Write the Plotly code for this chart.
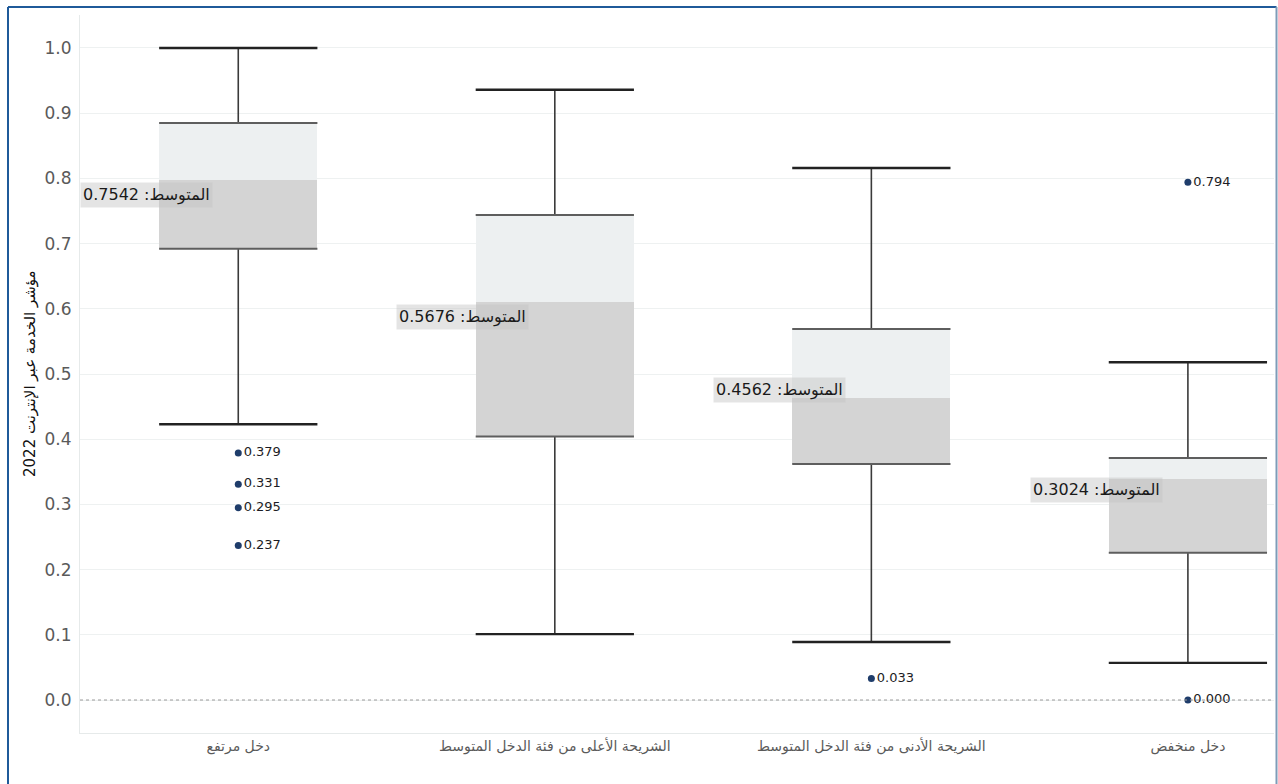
import plotly.graph_objects as go

# ---------------- data ----------------
categories = ["دخل مرتفع",
              "الشريحة الأعلى من فئة الدخل المتوسط",
              "الشريحة الأدنى من فئة الدخل المتوسط",
              "دخل منخفض"]
whisker_high = [1.000, 0.936, 0.816, 0.518]
q3 = [0.885, 0.744, 0.569, 0.371]
median = [0.798, 0.610, 0.463, 0.339]
q1 = [0.692, 0.404, 0.362, 0.226]
whisker_low = [0.423, 0.101, 0.089, 0.057]
means = [0.7542, 0.5676, 0.4562, 0.3024]
outlier_cat = [0, 0, 0, 0, 2, 3, 3]
outlier_val = [0.379, 0.331, 0.295, 0.237, 0.033, 0.794, 0.000]
y_title = "مؤشر الخدمة عبر الإنترنت 2022"
mean_label = "المتوسط"

# ---------------- layout constants ----------------
W, H = 1278, 784
ML, MR, MT, MB = 80, 4, 15, 51
PW, PH = W - ML - MR, H - MT - MB
HALF = 0.25
pos = list(range(len(categories)))

def px_to_paper_x(px):
    return (px - ML) / PW

def px_to_paper_y(py):
    return (H - MB - py) / PH

fig = go.Figure()

# lower half of box (Q1 -> median)
fig.add_trace(go.Bar(x=pos, y=[m - a for m, a in zip(median, q1)], base=q1,
                     width=2 * HALF, marker=dict(color="#d4d4d4", line=dict(width=0)),
                     hoverinfo="skip", showlegend=False))
# upper half of box (median -> Q3)
fig.add_trace(go.Bar(x=pos, y=[b - m for b, m in zip(q3, median)], base=median,
                     width=2 * HALF, marker=dict(color="#edf0f1", line=dict(width=0)),
                     hoverinfo="skip", showlegend=False))

# whisker stems
sx, sy = [], []
for i in pos:
    sx += [i, i, None, i, i, None]
    sy += [q3[i], whisker_high[i], None, q1[i], whisker_low[i], None]
fig.add_trace(go.Scatter(x=sx, y=sy, mode="lines", line=dict(color="#3a3a3a", width=1.6),
                         hoverinfo="skip", showlegend=False))

# Q1 / Q3 edges
ex, ey = [], []
for i in pos:
    for v in (q3[i], q1[i]):
        ex += [i - HALF, i + HALF, None]
        ey += [v, v, None]
fig.add_trace(go.Scatter(x=ex, y=ey, mode="lines", line=dict(color="#5e5e5e", width=2),
                         hoverinfo="skip", showlegend=False))

# whisker caps
cx, cy = [], []
for i in pos:
    for v in (whisker_high[i], whisker_low[i]):
        cx += [i - HALF, i + HALF, None]
        cy += [v, v, None]
fig.add_trace(go.Scatter(x=cx, y=cy, mode="lines", line=dict(color="#222222", width=2.4),
                         hoverinfo="skip", showlegend=False))

# outliers
fig.add_trace(go.Scatter(x=outlier_cat, y=outlier_val, mode="markers+text",
                         marker=dict(color="#1f3d6b", size=7),
                         text=[f"{v:.3f}" for v in outlier_val],
                         textposition="middle right",
                         textfont=dict(family="DejaVu Sans", size=13, color="#1c1c24"),
                         hoverinfo="skip", showlegend=False))

# mean labels
for i in pos:
    fig.add_annotation(x=i - 0.08, y=means[i], xref="x", yref="y",
                       xanchor="right", yanchor="bottom",
                       text=f"{mean_label}: {means[i]:.4f}", showarrow=False,
                       bgcolor="rgba(195,195,195,0.45)", borderpad=2,
                       font=dict(family="DejaVu Sans", size=16, color="#1a1a1a"))

# y axis title
fig.add_annotation(x=px_to_paper_x(30), y=0.5, xref="paper", yref="paper",
                   xanchor="center", yanchor="middle", textangle=-90,
                   text=y_title, showarrow=False,
                   font=dict(family="DejaVu Sans", size=15, color="#111111"))

# dotted zero line
fig.add_shape(type="line", xref="paper", yref="y", x0=0, x1=1, y0=0, y1=0,
              line=dict(color="#9a9a9a", width=1, dash="dot"), layer="above")

# outer frame (left, top, right)
fl, ft, fr, fb = px_to_paper_x(8), px_to_paper_y(7), px_to_paper_x(1276.5), px_to_paper_y(800)
fig.add_shape(type="line", xref="paper", yref="paper", x0=fl, x1=fl, y0=fb, y1=ft,
              line=dict(color="#1f5a99", width=2))
fig.add_shape(type="line", xref="paper", yref="paper", x0=fl, x1=fr, y0=ft, y1=ft,
              line=dict(color="#1f5a99", width=2))
fig.add_shape(type="line", xref="paper", yref="paper", x0=fr, x1=fr, y0=fb, y1=ft,
              line=dict(color="#7f9bb8", width=2))

fig.update_layout(
    width=W, height=H,
    margin=dict(l=ML, r=MR, t=MT, b=MB),
    paper_bgcolor="white", plot_bgcolor="white",
    barmode="overlay", bargap=0,
    showlegend=False,
    xaxis=dict(range=[-0.5, 3.272], tickmode="array", tickvals=pos, ticktext=categories,
               showgrid=False, zeroline=False, showline=True, linecolor="#e6eaea",
               tickfont=dict(family="DejaVu Sans", size=14, color="#5a5a5a"),
               ticks=""),
    yaxis=dict(range=[-0.0506, 1.0506], tickmode="array",
               tickvals=[k / 10 for k in range(11)],
               ticktext=[f"{k / 10:.1f}" for k in range(11)],
               showgrid=True, gridcolor="#eef1f1", gridwidth=1,
               zeroline=False, showline=True, linecolor="#e6eaea",
               tickfont=dict(family="DejaVu Sans", size=17, color="#5a5a5a"),
               ticks="", ticklabelstandoff=4),
)

fig.write_html("out.html",
               config={"displayModeBar": False},
               post_script="document.body.style.margin='0';document.body.style.padding='0';")
